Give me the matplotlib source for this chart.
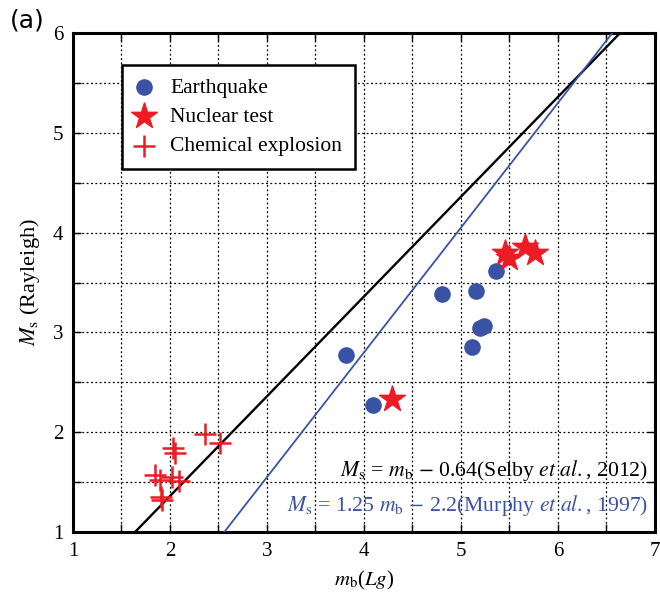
import matplotlib
matplotlib.use('Agg')
import matplotlib.pyplot as plt
import numpy as np

plt.rcParams['font.family'] = ['Liberation Serif', 'DejaVu Serif']
plt.rcParams['mathtext.fontset'] = 'stix'

# Earthquakes
eq_mb = [3.81, 4.09, 4.80, 5.15, 5.11, 5.20, 5.24, 5.36]
eq_ms = [2.77, 2.27, 3.38, 3.41, 2.85, 3.04, 3.06, 3.62]
# Nuclear tests
nt_mb = [4.29, 5.45, 5.50, 5.66, 5.76]
nt_ms = [2.33, 3.80, 3.75, 3.86, 3.80]
# Chemical explosions
ce_mb = [2.36, 2.52, 2.03, 2.05, 1.85, 1.90, 2.02, 2.09, 1.91, 1.92]
ce_ms = [1.98, 1.89, 1.84, 1.79, 1.57, 1.52, 1.55, 1.51, 1.35, 1.32]

blue = '#3953a4'
red = '#ed1c24'

fig = plt.figure(figsize=(6.6, 5.97), dpi=100)
ax = fig.add_axes([0.1106, 0.1089, 0.8818, 0.8358])

# reference lines
xx = np.array([1, 7])
ax.plot(xx, xx - 0.64, color='black', lw=1.7, zorder=3)
ax.plot(xx, 1.25 * xx - 2.2, color=blue, lw=1.3, zorder=3)

ax.scatter(eq_mb, eq_ms, s=120, color=blue, marker='o', zorder=4, label='Earthquake')
ax.scatter(nt_mb, nt_ms, s=380, color=red, marker='*', zorder=4, label='Nuclear test')
ax.scatter(ce_mb, ce_ms, s=240, color=red, marker='+', linewidths=1.8, zorder=4,
           label='Chemical explosion')

ax.set_xlim(1, 7)
ax.set_ylim(1, 6)
ax.set_xticks(np.arange(1, 8, 1))
ax.set_yticks(np.arange(1, 7, 1))
ax.set_xticks(np.arange(1, 7.01, 0.5), minor=True)
ax.set_yticks(np.arange(1, 6.01, 0.5), minor=True)
ax.grid(True, which='both', ls=(0, (1.5, 2)), color='black', lw=0.9)
ax.set_axisbelow(True)
ax.tick_params(which='both', direction='in', top=True, right=True, labelsize=15)
ax.tick_params(which='major', length=6, width=1, pad=7)
ax.tick_params(which='minor', length=6, width=1)
for sp in ax.spines.values():
    sp.set_linewidth(2.2)

ax.set_xlabel(r'$m_{\rm b}$($Lg$)', fontsize=15, labelpad=6)
ax.set_ylabel(r'$M_{\rm s}$ (Rayleigh)', fontsize=16, labelpad=8)

ax.text(6.93, 1.62, r'$M_{\rm s}$ = $m_{\rm b}$ $-$ 0.64(Selby $et\ al.$, 2012)',
        ha='right', va='center', fontsize=15.7, color='black', zorder=5)
ax.text(6.93, 1.27, r'$M_{\rm s}$ = 1.25 $m_{\rm b}$ $-$ 2.2(Murphy $et\ al.$, 1997)',
        ha='right', va='center', fontsize=15.7, color=blue, zorder=5)

leg = ax.legend(loc='upper left', bbox_to_anchor=(0.0842, 0.936), borderaxespad=0,
                fontsize=15.5, fancybox=False, framealpha=1, edgecolor='black',
                handlelength=0.8, handletextpad=0.85, borderpad=0.6, labelspacing=0.42,
                scatterpoints=1)
leg.get_frame().set_linewidth(1.8)

fig.text(0.015, 0.965, '(a)', fontsize=18, family='DejaVu Sans', ha='left', va='center')

fig.savefig('out.png', dpi=100)
